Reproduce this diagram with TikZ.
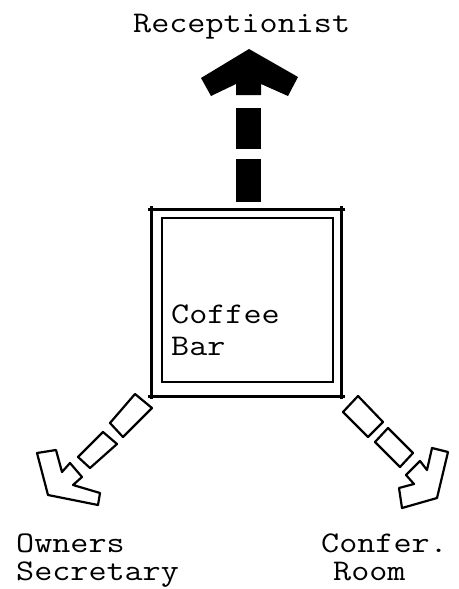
\documentclass[tikz,border=0pt]{standalone}
\usepackage{fontspec}
\setmonofont[FakeStretch=1.17]{Latin Modern Mono}
\begin{document}
\begin{tikzpicture}[x=1pt,y=-1pt,
  lbl/.style={font=\ttfamily\fontsize{30}{32}\selectfont, inner sep=0pt, anchor=base west},
  outl/.style={line width=2.2pt, line join=round, fill=white},
  wall/.style={line width=3pt},
  inwall/.style={line width=2pt}]
\useasboundingbox (0,0) rectangle (458,589);
% labels
\node[lbl] (rec) at (133,32) {Receptionist};
\node[lbl] (cof1) at (171,323) {Coffee};
\node[lbl] (cof2) at (171,355) {Bar};
\node[lbl] (own1) at (16,552) {Owners};
\node[lbl] (own2) at (16,580) {Secretary};
\node[lbl] (conf1) at (321,552) {Confer.};
\node[lbl] (conf2) at (333,580) {Room};
% coffee bar box
\draw[wall] (148,209) -- (345,209);
\draw[wall] (148,396) -- (345,396);
\draw[wall] (151.7,206) -- (151.7,399);
\draw[wall] (341.7,206) -- (341.7,399);
\draw[inwall] (161.7,218) rectangle (333.3,382);
% top arrow
\fill (236,108) rectangle (261,149);
\fill (236,159) rectangle (261,202);
\fill[line join=round] (249,49) -- (298,77) -- (288,96) -- (261,84) -- (261,95) -- (236,95) -- (236,84) -- (211,96) -- (201,78) -- cycle;
% left-bottom arrow
\draw[outl] (135,394) -- (152,408) -- (123,437) -- (110,423) -- cycle;
\draw[outl] (103,432) -- (117,444) -- (90,468) -- (78,457) -- cycle;
\draw[outl] (37,453) -- (56,450) -- (62,472) -- (70,463) -- (82,477) -- (73,485) -- (100,493) -- (98,505) -- (48,495) -- cycle;
% right-bottom arrow
\draw[outl] (358,396) -- (383,422) -- (368,437) -- (343,412) -- cycle;
\draw[outl] (388,428) -- (413,453) -- (400,467) -- (375,442) -- cycle;
\draw[outl] (432,448) -- (448,452) -- (437,498) -- (402,508) -- (399,488) -- (414,484) -- (406,475) -- (420,461) -- (427,470) -- cycle;
\end{tikzpicture}
\end{document}
